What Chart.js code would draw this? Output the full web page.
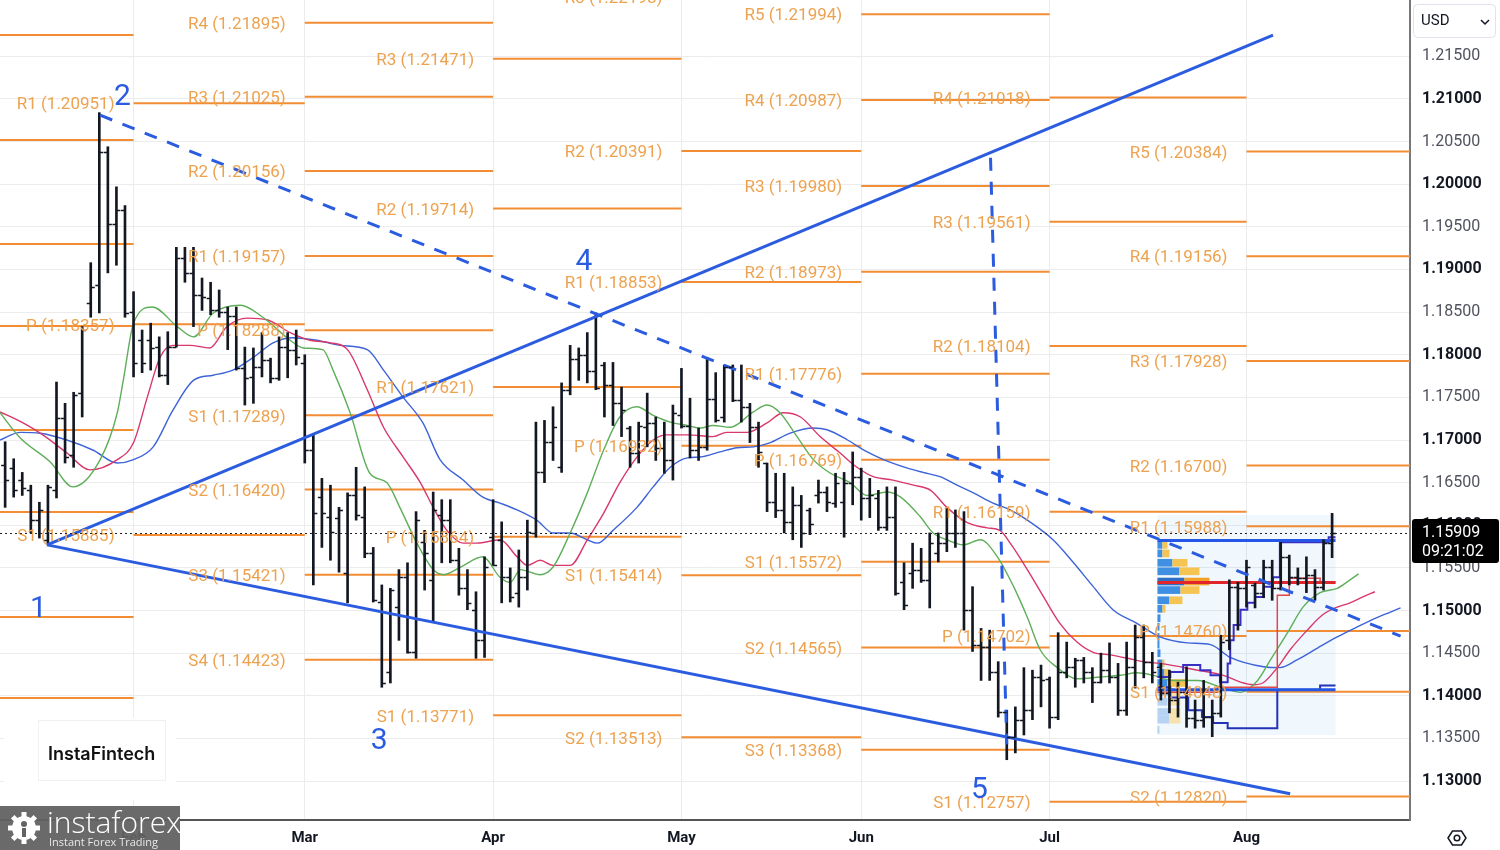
<!DOCTYPE html>
<html lang="en">
<head>
<meta charset="utf-8"/>
<title>EUR/USD daily - pivots and wave count</title>
<script src="https://cdn.jsdelivr.net/npm/chart.js"></script>
<style>
  html, body { margin: 0; padding: 0; background: #ffffff; }
  #wrap { width: 1500px; height: 850px; }
</style>
</head>
<body>
<div id="wrap"><canvas id="chart" width="1500" height="850"></canvas></div>
<script>
// daily bars, index 0 = first visible session (mid January)
const opens = [1.1671,1.1667,1.1653,1.1641,1.1606,1.1583,1.1641,1.1726,1.1682,1.1755,
 1.1861,1.1882,1.2038,1.1953,1.1970,1.1850,1.1817,1.1817,1.1809,1.1776,
 1.1809,1.1913,1.1896,1.1870,1.1867,1.1852,1.1850,1.1845,1.1784,1.1774,
 1.1786,1.1794,1.1773,1.1809,1.1806,1.1790,1.1688,1.1633,1.1610,1.1609,
 1.1544,1.1635,1.1610,1.1567,1.1510,1.1428,1.1504,1.1539,1.1451,1.1580,
 1.1536,1.1612,1.1606,1.1559,1.1526,1.1501,1.1465,1.1586,1.1583,1.1539,
 1.1521,1.1539,1.1591,1.1662,1.1698,1.1668,1.1759,1.1795,1.1800,1.1781,
 1.1788,1.1765,1.1743,1.1714,1.1685,1.1715,1.1720,1.1691,1.1676,1.1729,
 1.1717,1.1688,1.1692,1.1748,1.1727,1.1786,1.1747,1.1739,1.1715,1.1673,
 1.1627,1.1618,1.1604,1.1624,1.1618,1.1635,1.1639,1.1626,1.1627,1.1650,
 1.1657,1.1632,1.1632,1.1598,1.1610,1.1533,1.1544,1.1548,1.1536,1.1567,
 1.1579,1.1591,1.1591,1.1501,1.1460,1.1457,1.1428,1.1381,1.1352,1.1372,
 1.1383,1.1422,1.1420,1.1375,1.1428,1.1434,1.1442,1.1428,1.1416,1.1430,
 1.1422,1.1383,1.1434,1.1469,1.1440,1.1434,1.1403,1.1395,1.1404,1.1374,
 1.1372,1.1375,1.1380,1.1465,1.1528,1.1526,1.1530,1.1521,1.1551,1.1526,
 1.1563,1.1539,1.1538,1.1542,1.1528,1.1579];
const highs = [1.1698,1.1678,1.1662,1.1647,1.1627,1.1647,1.1768,1.1743,1.1756,1.1833,
 1.1908,1.2084,1.2044,1.1997,1.1975,1.1874,1.1829,1.1837,1.1821,1.1827,
 1.1926,1.1926,1.1926,1.1890,1.1885,1.1876,1.1856,1.1856,1.1809,1.1808,
 1.1826,1.1796,1.1821,1.1826,1.1829,1.1800,1.1706,1.1655,1.1647,1.1621,
 1.1638,1.1668,1.1645,1.1574,1.1530,1.1526,1.1548,1.1556,1.1616,1.1594,
 1.1639,1.1630,1.1630,1.1573,1.1548,1.1522,1.1563,1.1630,1.1604,1.1550,
 1.1571,1.1606,1.1721,1.1723,1.1739,1.1767,1.1811,1.1808,1.1826,1.1849,
 1.1791,1.1791,1.1762,1.1716,1.1721,1.1755,1.1727,1.1721,1.1741,1.1784,
 1.1749,1.1714,1.1797,1.1779,1.1788,1.1788,1.1788,1.1743,1.1721,1.1673,
 1.1661,1.1661,1.1645,1.1635,1.1620,1.1653,1.1645,1.1661,1.1662,1.1686,
 1.1667,1.1655,1.1641,1.1645,1.1645,1.1556,1.1579,1.1573,1.1591,1.1591,
 1.1620,1.1618,1.1616,1.1528,1.1479,1.1477,1.1440,1.1383,1.1387,1.1433,
 1.1430,1.1436,1.1422,1.1474,1.1463,1.1444,1.1445,1.1433,1.1450,1.1462,
 1.1438,1.1463,1.1483,1.1483,1.1451,1.1438,1.1430,1.1416,1.1434,1.1395,
 1.1418,1.1395,1.1471,1.1536,1.1533,1.1559,1.1532,1.1559,1.1559,1.1580,
 1.1565,1.1550,1.1563,1.1548,1.1583,1.1614];
const lows = [1.1621,1.1633,1.1635,1.1591,1.1585,1.1577,1.1632,1.1673,1.1668,1.1727,
 1.1844,1.1849,1.1896,1.1905,1.1844,1.1774,1.1779,1.1782,1.1774,1.1765,
 1.1809,1.1885,1.1833,1.1852,1.1847,1.1844,1.1806,1.1782,1.1741,1.1743,
 1.1774,1.1767,1.1770,1.1773,1.1788,1.1673,1.1530,1.1574,1.1559,1.1545,
 1.1509,1.1606,1.1562,1.1510,1.1410,1.1415,1.1465,1.1450,1.1444,1.1524,
 1.1487,1.1556,1.1556,1.1518,1.1501,1.1444,1.1445,1.1553,1.1509,1.1510,
 1.1504,1.1524,1.1586,1.1650,1.1676,1.1662,1.1753,1.1770,1.1767,1.1759,
 1.1727,1.1717,1.1704,1.1668,1.1673,1.1692,1.1676,1.1661,1.1653,1.1714,
 1.1679,1.1676,1.1688,1.1721,1.1721,1.1745,1.1721,1.1697,1.1668,1.1616,
 1.1609,1.1591,1.1583,1.1574,1.1589,1.1626,1.1616,1.1621,1.1586,1.1624,
 1.1606,1.1609,1.1594,1.1594,1.1518,1.1501,1.1526,1.1533,1.1503,1.1557,
 1.1569,1.1574,1.1477,1.1452,1.1418,1.1418,1.1375,1.1325,1.1333,1.1354,
 1.1372,1.1387,1.1362,1.1372,1.1421,1.1410,1.1415,1.1392,1.1415,1.1415,
 1.1377,1.1377,1.1409,1.1421,1.1415,1.1395,1.1380,1.1375,1.1363,1.1362,
 1.1363,1.1352,1.1375,1.1454,1.1477,1.1504,1.1503,1.1515,1.1512,1.1524,
 1.1530,1.1530,1.1521,1.1512,1.1524,1.1562];
const closes = [1.1653,1.1641,1.1644,1.1606,1.1618,1.1645,1.1726,1.1680,1.1753,1.1829,
 1.1880,1.2038,1.1953,1.1970,1.1849,1.1790,1.1790,1.1808,1.1776,1.1809,
 1.1913,1.1896,1.1870,1.1868,1.1852,1.1850,1.1845,1.1784,1.1773,1.1786,
 1.1794,1.1773,1.1809,1.1806,1.1797,1.1688,1.1614,1.1614,1.1592,1.1618,
 1.1635,1.1612,1.1567,1.1512,1.1415,1.1524,1.1539,1.1451,1.1606,1.1567,
 1.1618,1.1606,1.1559,1.1526,1.1509,1.1465,1.1551,1.1553,1.1539,1.1516,
 1.1539,1.1592,1.1662,1.1698,1.1715,1.1759,1.1795,1.1800,1.1781,1.1761,
 1.1765,1.1743,1.1735,1.1685,1.1717,1.1720,1.1691,1.1676,1.1732,1.1717,
 1.1688,1.1692,1.1748,1.1723,1.1786,1.1747,1.1739,1.1715,1.1686,1.1627,
 1.1618,1.1604,1.1624,1.1591,1.1601,1.1639,1.1627,1.1650,1.1650,1.1657,
 1.1632,1.1635,1.1598,1.1610,1.1521,1.1506,1.1548,1.1536,1.1579,1.1579,
 1.1591,1.1591,1.1501,1.1460,1.1457,1.1428,1.1381,1.1352,1.1372,1.1383,
 1.1422,1.1418,1.1375,1.1428,1.1434,1.1442,1.1428,1.1416,1.1430,1.1422,
 1.1383,1.1434,1.1469,1.1440,1.1428,1.1403,1.1395,1.1404,1.1374,1.1372,
 1.1375,1.1380,1.1463,1.1528,1.1526,1.1551,1.1521,1.1551,1.1526,1.1563,
 1.1539,1.1538,1.1542,1.1528,1.1579,1.1591];

const monthTicks = [15, 35, 57, 79, 100, 122, 145];
const monthLabels = ['Feb', 'Mar', 'Apr', 'May', 'Jun', 'Jul', 'Aug'];
const priceTicks = [1.130,1.135,1.140,1.145,1.150,1.155,1.160,1.165,1.170,1.175,
 1.180,1.185,1.190,1.195,1.200,1.205,1.210,1.215];

// alligator: lips (green), teeth (red), jaw (blue), already shifted forward
const lipsX = [-0.6,1.8,5.3,7.9,11.1,13.1,13.8,15.0,17.2,20.1,22.0,24.3,27.5,30.1,33.3,34.8,37.1,38.3,40.3,42.6,
 44.6,46.1,48.1,50.0,51.2,53.2,55.8,57.8,59.0,60.2,62.5,64.0,66.0,68.0,69.9,71.8,73.8,75.7,77.7,79.7,
 81.2,82.7,84.7,87.4,89.0,90.5,92.5,94.4,96.4,98.7,100.7,103.0,104.6,106.9,108.4,110.0,111.9,113.9,115.9,117.8,
 119.4,120.9,122.9,125.2,127.9,130.3,132.2,134.1,136.4,139.3,142.3,144.3,146.3,147.8,149.8,151.6,153.6,155.6,157.1,158.1];
const lipsY = [1.1732,1.1702,1.1674,1.1645,1.1677,1.1732,1.1770,1.1837,1.1856,1.1833,1.1821,1.1849,1.1858,1.1844,1.1817,1.1808,1.1806,1.1782,1.1732,1.1661,
 1.1650,1.1621,1.1579,1.1548,1.1542,1.1551,1.1563,1.1539,1.1533,1.1548,1.1542,1.1551,1.1591,1.1638,1.1688,1.1727,1.1739,1.1729,1.1721,1.1717,
 1.1714,1.1717,1.1715,1.1733,1.1741,1.1732,1.1704,1.1677,1.1661,1.1650,1.1635,1.1639,1.1633,1.1610,1.1591,1.1583,1.1577,1.1583,1.1563,1.1528,
 1.1492,1.1454,1.1433,1.1420,1.1422,1.1424,1.1427,1.1424,1.1418,1.1418,1.1409,1.1404,1.1418,1.1442,1.1474,1.1504,1.1521,1.1526,1.1536,1.1543];
const teethX = [-0.6,2.1,4.4,7.2,9.9,13.1,15.0,16.6,18.1,19.6,21.6,23.9,25.9,28.3,30.6,33.3,35.6,38.0,40.0,42.3,
 44.2,46.5,48.5,50.0,51.6,53.5,55.1,57.8,59.8,61.0,62.5,64.0,66.0,68.0,69.9,71.8,73.8,75.7,77.3,79.7,
 82.7,84.3,86.7,89.0,90.9,92.9,95.2,97.5,99.5,101.4,103.7,106.1,108.1,110.0,112.4,114.7,116.2,117.4,119.4,121.3,
 123.2,125.2,127.1,129.1,131.1,132.9,134.9,139.3,142.3,144.3,145.8,146.9,148.6,150.1,152.1,153.9,155.6,157.1,158.6,160.0];
const teethY = [1.1733,1.1720,1.1706,1.1685,1.1665,1.1677,1.1697,1.1750,1.1797,1.1811,1.1811,1.1808,1.1833,1.1843,1.1841,1.1826,1.1817,1.1814,1.1806,1.1759,
 1.1715,1.1680,1.1650,1.1621,1.1594,1.1579,1.1579,1.1583,1.1563,1.1553,1.1559,1.1553,1.1553,1.1583,1.1614,1.1650,1.1680,1.1700,1.1706,1.1706,
 1.1704,1.1709,1.1709,1.1720,1.1732,1.1727,1.1704,1.1685,1.1668,1.1657,1.1653,1.1647,1.1641,1.1621,1.1603,1.1597,1.1594,1.1579,1.1548,1.1516,
 1.1485,1.1463,1.1451,1.1448,1.1444,1.1440,1.1438,1.1430,1.1424,1.1416,1.1413,1.1415,1.1433,1.1454,1.1477,1.1495,1.1504,1.1509,1.1516,1.1522];
const jawX = [-0.6,1.8,4.1,7.2,10.3,13.1,15.0,17.3,19.6,22.0,24.3,26.6,29.0,31.3,33.6,36.4,39.1,42.3,44.2,46.5,
 48.8,50.8,53.5,55.8,57.8,59.8,62.1,64.0,66.0,68.0,69.2,71.0,73.8,75.7,77.7,79.7,81.2,83.5,85.5,87.4,
 89.4,91.7,94.4,96.0,98.4,100.7,102.6,105.4,107.2,109.2,111.2,113.1,115.4,117.4,119.4,122.4,124.8,127.1,129.4,132.2,
 134.9,138.1,140.8,143.1,147.0,148.9,150.9,153.3,155.6,158.0,160.3,163.0];
const jawY = [1.1700,1.1709,1.1708,1.1700,1.1688,1.1673,1.1677,1.1692,1.1735,1.1770,1.1776,1.1782,1.1797,1.1814,1.1820,1.1817,1.1811,1.1806,1.1782,1.1750,
 1.1720,1.1677,1.1653,1.1633,1.1626,1.1618,1.1606,1.1591,1.1591,1.1583,1.1579,1.1594,1.1621,1.1645,1.1668,1.1679,1.1680,1.1686,1.1691,1.1692,
 1.1697,1.1708,1.1714,1.1712,1.1700,1.1686,1.1677,1.1667,1.1662,1.1657,1.1647,1.1638,1.1626,1.1618,1.1606,1.1583,1.1556,1.1528,1.1501,1.1485,
 1.1469,1.1462,1.1460,1.1445,1.1434,1.1433,1.1442,1.1456,1.1469,1.1481,1.1492,1.1503];

// monthly pivot points, one set per month
const pivotStart = [-1, 15, 35, 57, 79, 100, 122, 145];
const pivotEnd = [15, 35, 57, 79, 100, 122, 145, 165];
const pivotNames = [
  ['', '', '', '', '', '', '', ''],
  ['R1', 'P', 'S1'],
  ['R4', 'R3', 'R2', 'R1', 'P', 'S1', 'S2', 'S3', 'S4'],
  ['R3', 'R2', 'R1', 'P', 'S1'],
  ['R3', 'R2', 'R1', 'P', 'S1', 'S2'],
  ['R5', 'R4', 'R3', 'R2', 'R1', 'P', 'S1', 'S2', 'S3'],
  ['R4', 'R3', 'R2', 'R1', 'P', 'S1'],
  ['R5', 'R4', 'R3', 'R2', 'R1', 'P', 'S1', 'S2']
];
const pivotValues = [
  [1.21751, 1.20519, 1.19299, 1.18337, 1.17117, 1.16155, 1.14924, 1.13973],
  [1.20951, 1.18357, 1.15885],
  [1.21895, 1.21025, 1.20156, 1.19157, 1.18288, 1.17289, 1.16420, 1.15421, 1.14423],
  [1.21471, 1.19714, 1.17621, 1.15864, 1.13771],
  [1.22198, 1.20391, 1.18853, 1.16932, 1.15414, 1.13513],
  [1.21994, 1.20987, 1.19980, 1.18973, 1.17776, 1.16769, 1.15572, 1.14565, 1.13368],
  [1.21018, 1.19561, 1.18104, 1.16159, 1.14702, 1.12757],
  [1.20384, 1.19156, 1.17928, 1.16700, 1.15988, 1.14760, 1.14048, 1.12820]
];

// hand drawn trend lines and wave count
const riseX = [4.9, 148.1], riseY = [1.1577, 1.2175];
const fallX = [4.9, 150.1], fallY = [1.1577, 1.1285];
const dashX = [11.1, 163.0], dashY = [1.2081, 1.1470];
const dropX = [115.1, 117.0], dropY = [1.2031, 1.1343];
const waveText = ['1', '2', '3', '4', '5'];
const waveX = [3.9, 13.7, 43.7, 67.6, 113.8];
const waveY = [1.1501, 1.2102, 1.1346, 1.1908, 1.1289];

// fixed range volume profile (July 17 - now)
const profX = [134.6, 155.4];
const profTop = 1.1612, profBottom = 1.1354;
const profRows = [1.1577,1.1567,1.1556,1.1546,1.1534,1.1524,1.1512,1.1502,1.1491,1.1481,1.1469,
 1.1460,1.1450,1.1438,1.1427,1.1415,1.1404,1.1393,1.1381,1.1372,1.1360];
const profBuy = [5,5,15,22,27,23,12,5,3,2,2,2,3,5,7,10,12,10,12,12,2];
const profSell = [5,7,15,20,25,19,13,3,0,0,0,0,0,2,5,18,11,13,11,11,0];
const profPoc = 1.1533, profVah = 1.1582, profVal = 1.1407;
const vahStepX = [134.6,136.1,137.6,139.6,140.8,141.9,142.8,143.1,143.5,144.3,145.1,146.0,147.0,148.1,148.9,154.6,155.4];
const vahStepY = [1.1422,1.1428,1.1436,1.1430,1.1424,1.1416,1.1438,1.1465,1.1483,1.1501,1.1509,1.1516,1.1528,1.1539,1.1580,1.1586,1.1586];
const valStepX = [134.6,136.1,138.2,139.8,141.1,142.8,148.6,153.6,155.4];
const valStepY = [1.1410,1.1398,1.1383,1.1375,1.1368,1.1362,1.1407,1.1412,1.1412];
const pocStepX = [134.6,141.6,148.6,150.0,153.6,155.4];
const pocStepY = [1.1404,1.1410,1.1518,1.1538,1.1533,1.1533];

const lastPrice = 1.15909;
const lastTime = '09:21:02';

function pts(xs, ys) {
  return xs.map(function (v, i) { return { x: v, y: ys[i] }; });
}
function isWhole(v) {
  return Math.abs(v * 100 - Math.round(v * 100)) < 1e-6;
}
function tickWhole(c) {
  return !!(c && c.tick && isWhole(c.tick.value));
}

var datasets = [];

// pivot segments
pivotValues.forEach(function (levels, k) {
  levels.forEach(function (v) {
    datasets.push({
      type: 'line', data: [{ x: pivotStart[k], y: v }, { x: pivotEnd[k], y: v }],
      borderColor: '#f28d33', borderWidth: 2, pointRadius: 0, order: 60
    });
  });
});

datasets.push({ type: 'line', data: pts(jawX, jawY), borderColor: '#3d63d8', borderWidth: 1.4,
  pointRadius: 0, cubicInterpolationMode: 'monotone', order: 40 });
datasets.push({ type: 'line', data: pts(teethX, teethY), borderColor: '#d8386a', borderWidth: 1.4,
  pointRadius: 0, cubicInterpolationMode: 'monotone', order: 39 });
datasets.push({ type: 'line', data: pts(lipsX, lipsY), borderColor: '#5fae5a', borderWidth: 1.4,
  pointRadius: 0, cubicInterpolationMode: 'monotone', order: 38 });

// profile levels
datasets.push({ type: 'line', data: pts(vahStepX, vahStepY), stepped: true, borderColor: '#3a2fc4',
  borderWidth: 2, pointRadius: 0, order: 30 });
datasets.push({ type: 'line', data: pts(valStepX, valStepY), stepped: true, borderColor: '#2233b8',
  borderWidth: 2, pointRadius: 0, order: 30 });
datasets.push({ type: 'line', data: pts(pocStepX, pocStepY), stepped: true, borderColor: '#e04848',
  borderWidth: 1.5, pointRadius: 0, order: 30 });
datasets.push({ type: 'line', data: pts(profX, [profVah, profVah]), borderColor: '#2457e6',
  borderWidth: 3, pointRadius: 0, order: 29 });
datasets.push({ type: 'line', data: pts(profX, [profVal, profVal]), borderColor: '#2457e6',
  borderWidth: 3, pointRadius: 0, order: 29 });
datasets.push({ type: 'line', data: pts(profX, [profPoc, profPoc]), borderColor: '#e0262b',
  borderWidth: 3, pointRadius: 0, order: 29 });

// OHLC high-low stems
datasets.push({
  type: 'bar',
  data: highs.map(function (h, i) { return { x: i, y: [lows[i], h] }; }),
  backgroundColor: '#131722', borderWidth: 0, barThickness: 2, grouped: false, order: 20
});

// trend lines
datasets.push({ type: 'line', data: pts(riseX, riseY), borderColor: '#2b5ce0', borderWidth: 3, pointRadius: 0, order: 10 });
datasets.push({ type: 'line', data: pts(fallX, fallY), borderColor: '#2b5ce0', borderWidth: 3, pointRadius: 0, order: 10 });
datasets.push({ type: 'line', data: pts(dashX, dashY), borderColor: '#2b5ce0', borderWidth: 3,
  borderDash: [13, 11], pointRadius: 0, order: 10 });
datasets.push({ type: 'line', data: pts(dropX, dropY), borderColor: '#2b5ce0', borderWidth: 3,
  borderDash: [13, 11], pointRadius: 0, order: 10 });

const extras = {
  id: 'extras',
  beforeDatasetsDraw: function (chart) {
    var ctx = chart.ctx, x = chart.scales.x, y = chart.scales.y;
    ctx.save();
    // profile background
    var l = x.getPixelForValue(profX[0]), r = x.getPixelForValue(profX[1]);
    var t = y.getPixelForValue(profTop), b = y.getPixelForValue(profBottom);
    ctx.fillStyle = 'rgba(70,150,230,0.08)';
    ctx.fillRect(l, t, r - l, b - t);
    // profile rows
    var unit = 1 / 8.56;
    profRows.forEach(function (p, i) {
      var top = y.getPixelForValue(p + 0.00045), bot = y.getPixelForValue(p - 0.00045);
      var xb = x.getPixelForValue(profX[0] + profBuy[i] * unit);
      var xs = x.getPixelForValue(profX[0] + (profBuy[i] + profSell[i]) * unit);
      var inside = p > profVal;
      var poc = Math.abs(p - profPoc) < 0.0004;
      ctx.fillStyle = poc ? '#2f6fc4' : (inside ? '#3f8fe2' : '#b7d3f3');
      ctx.fillRect(l, top, xb - l, bot - top);
      ctx.fillStyle = poc ? '#f3a126' : (inside ? '#f6c453' : '#f7e2ad');
      ctx.fillRect(xb, top, xs - xb, bot - top);
    });
    ctx.restore();
  },
  afterDatasetsDraw: function (chart) {
    var ctx = chart.ctx, a = chart.chartArea, x = chart.scales.x, y = chart.scales.y;
    ctx.save();
    ctx.beginPath();
    ctx.rect(a.left, a.top, a.right - a.left, a.bottom - a.top);
    ctx.clip();

    // open / close ticks
    ctx.strokeStyle = '#131722';
    ctx.lineWidth = 1.5;
    ctx.beginPath();
    opens.forEach(function (o, i) {
      var px = x.getPixelForValue(i);
      var yo = Math.round(y.getPixelForValue(o)) + 0.5;
      var yc = Math.round(y.getPixelForValue(closes[i])) + 0.5;
      ctx.moveTo(px - 4, yo); ctx.lineTo(px, yo);
      ctx.moveTo(px, yc); ctx.lineTo(px + 4, yc);
    });
    ctx.stroke();

    // pivot labels, right aligned just before each month's lines
    ctx.font = '17px Roboto';
    ctx.fillStyle = '#eda24f';
    ctx.textAlign = 'right';
    ctx.textBaseline = 'middle';
    pivotValues.forEach(function (levels, k) {
      var lx = x.getPixelForValue(pivotStart[k]) - 19;
      levels.forEach(function (v, j) {
        var n = pivotNames[k][j];
        if (!n) return;
        ctx.fillText(n + ' (' + v.toFixed(5) + ')', lx, y.getPixelForValue(v) + 2);
      });
    });

    // wave numbers
    ctx.font = '30px Roboto';
    ctx.fillStyle = '#2b5ce0';
    ctx.textAlign = 'center';
    waveText.forEach(function (s, i) {
      ctx.fillText(s, x.getPixelForValue(waveX[i]), y.getPixelForValue(waveY[i]));
    });

    // last price line
    var py = Math.round(y.getPixelForValue(lastPrice)) + 0.5;
    ctx.strokeStyle = '#222';
    ctx.lineWidth = 1;
    ctx.setLineDash([2, 3]);
    ctx.beginPath();
    ctx.moveTo(a.left, py); ctx.lineTo(a.right, py);
    ctx.stroke();
    ctx.setLineDash([]);
    ctx.restore();
  },
  afterDraw: function (chart) {
    var ctx = chart.ctx, a = chart.chartArea, y = chart.scales.y;
    ctx.save();
    // last price tag
    var py = y.getPixelForValue(lastPrice);
    ctx.fillStyle = '#000';
    ctx.beginPath();
    ctx.roundRect(a.right + 2, py - 14, 87, 44, 3);
    ctx.fill();
    ctx.fillStyle = '#fff';
    ctx.font = '16px Roboto';
    ctx.textAlign = 'left';
    ctx.textBaseline = 'middle';
    ctx.fillText(lastPrice.toFixed(5), a.right + 12, py);
    ctx.fillText(lastTime, a.right + 12, py + 19);

    // currency selector
    ctx.strokeStyle = '#e0e3eb';
    ctx.lineWidth = 1;
    ctx.beginPath();
    ctx.roundRect(a.right + 3.5, 4.5, 82, 33, 4);
    ctx.fillStyle = '#fff';
    ctx.fill();
    ctx.stroke();
    ctx.fillStyle = '#131722';
    ctx.font = '15px Roboto';
    ctx.fillText('USD', a.right + 11, 21);
    ctx.strokeStyle = '#131722';
    ctx.lineWidth = 1.5;
    ctx.beginPath();
    ctx.moveTo(a.right + 71, 20); ctx.lineTo(a.right + 75, 24); ctx.lineTo(a.right + 79, 20);
    ctx.stroke();

    // settings eye
    ctx.lineWidth = 1.5;
    ctx.beginPath();
    var cx = 1457, cy = 838;
    ctx.moveTo(cx - 9, cy); ctx.lineTo(cx - 4.5, cy - 7); ctx.lineTo(cx + 4.5, cy - 7);
    ctx.lineTo(cx + 9, cy); ctx.lineTo(cx + 4.5, cy + 7); ctx.lineTo(cx - 4.5, cy + 7);
    ctx.closePath();
    ctx.stroke();
    ctx.beginPath();
    ctx.arc(cx, cy, 2.8, 0, Math.PI * 2);
    ctx.stroke();

    // watermark block
    ctx.fillStyle = '#fff';
    ctx.fillRect(4, 718, 172, 82);
    ctx.strokeStyle = '#f0f0f0';
    ctx.lineWidth = 1;
    ctx.strokeRect(38.5, 720.5, 127, 60);
    ctx.fillStyle = '#111';
    ctx.font = '600 18px Inter';
    ctx.textAlign = 'left';
    ctx.fillText('InstaFintech', 48, 755);

    // broker logo
    ctx.fillStyle = 'rgba(98,98,98,0.95)';
    ctx.fillRect(0, 806, 180, 44);
    ctx.fillStyle = '#fff';
    ctx.font = '300 30px "Open Sans"';
    ctx.textBaseline = 'alphabetic';
    ctx.fillText('instaforex', 47, 833);
    ctx.font = '11px "Open Sans"';
    ctx.fillStyle = '#e8e8e8';
    ctx.fillText('Instant Forex Trading', 49, 846);
    // gear mark
    ctx.save();
    ctx.translate(24, 828);
    ctx.fillStyle = '#fff';
    for (var k = 0; k < 8; k++) {
      ctx.rotate(Math.PI / 4);
      ctx.fillRect(-2.5, -16, 5, 6);
    }
    ctx.beginPath();
    ctx.arc(0, 0, 12, 0, Math.PI * 2);
    ctx.fill();
    ctx.fillStyle = 'rgba(98,98,98,1)';
    ctx.beginPath();
    ctx.arc(0, -4, 3, 0, Math.PI * 2);
    ctx.fill();
    ctx.fillRect(-2, 0, 4, 9);
    ctx.restore();
    ctx.restore();
  }
};

new Chart(document.getElementById('chart'), {
  type: 'bar',
  data: { datasets: datasets },
  options: {
    responsive: false,
    animation: false,
    events: [],
    devicePixelRatio: 1,
    layout: { padding: 0 },
    plugins: { legend: { display: false }, tooltip: { enabled: false } },
    scales: {
      x: {
        type: 'linear', min: -0.6, max: 164.1, offset: false,
        grid: { color: '#ececec', drawTicks: false, offset: false },
        border: { color: '#555', width: 2 },
        afterBuildTicks: function (s) { s.ticks = monthTicks.map(function (v) { return { value: v }; }); },
        afterFit: function (s) { s.height = 30; s.paddingLeft = 0; s.paddingRight = 0; },
        ticks: {
          autoSkip: false, maxRotation: 0, padding: 9, color: '#131722',
          font: { family: 'Roboto', size: 15, weight: 'bold' },
          callback: function (v) { var k = monthTicks.indexOf(v); return k >= 0 ? monthLabels[k] : ''; }
        }
      },
      y: {
        position: 'right', min: 1.12543, max: 1.22161,
        grid: { color: '#ececec', drawTicks: false },
        border: { color: '#777', width: 2 },
        afterBuildTicks: function (s) { s.ticks = priceTicks.map(function (v) { return { value: v }; }); },
        afterFit: function (s) { s.width = 90; s.paddingTop = 0; s.paddingBottom = 0; },
        ticks: {
          padding: 12,
          color: function (c) { return tickWhole(c) ? '#131722' : '#50535e'; },
          font: function (c) {
            return { family: 'Roboto', size: 16, weight: tickWhole(c) ? 'bold' : 'normal' };
          },
          callback: function (v) { return v.toFixed(5); }
        }
      }
    }
  },
  plugins: [extras]
});
</script>
</body>
</html>
